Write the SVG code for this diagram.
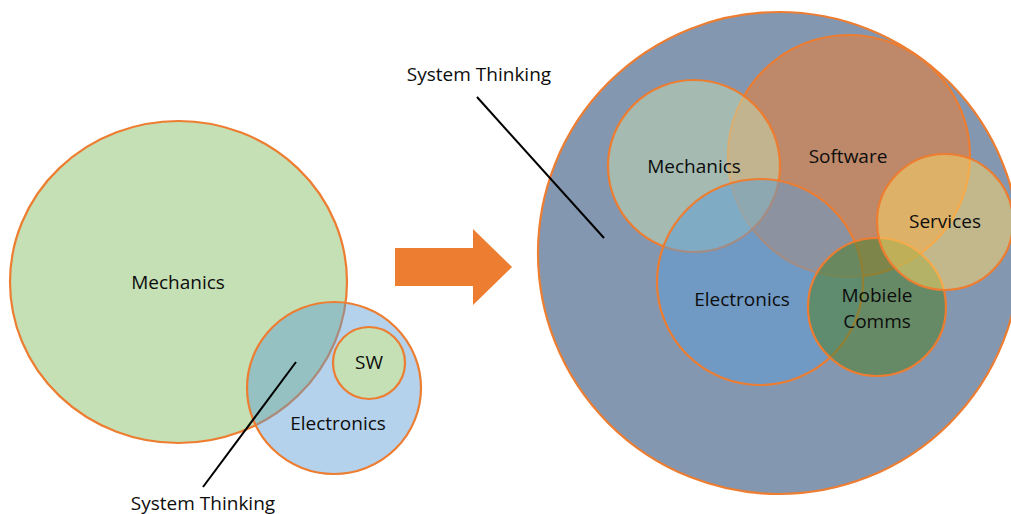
<svg xmlns="http://www.w3.org/2000/svg" width="1011" height="514" viewBox="0 0 1011 514">
<style>
  .c { stroke: #ed7d31; stroke-width: 2.2; }
  .t { font-family: "Open Sans", "Liberation Sans", sans-serif; font-size: 19px; fill: #0d0d0d; text-anchor: middle; }
  .ln { stroke: #000; stroke-width: 2; fill: none; }
</style>
<rect width="1011" height="514" fill="#ffffff"/>
<g id="left">
  <g id="l-mechanics">
    <ellipse class="c" cx="178.5" cy="282" rx="168.5" ry="161" fill="#c5e0b4"/>
    <text class="t" x="178" y="289">Mechanics</text>
  </g>
  <g id="l-electronics">
    <ellipse class="c" cx="334" cy="388" rx="87" ry="86" fill="#5b9bd5" fill-opacity="0.45"/>
    <text class="t" x="338" y="430">Electronics</text>
  </g>
  <g id="l-sw">
    <circle class="c" cx="369" cy="363" r="36" fill="#c5e0b4"/>
    <text class="t" x="369" y="369">SW</text>
  </g>
  <g id="l-system-thinking">
    <text class="t" x="203" y="510">System Thinking</text>
  </g>
</g>
<g id="arrow">
  <polygon points="395,248 473,248 473,229 512,267 473,305 473,286 395,286" fill="#ed7d31"/>
</g>
<g id="right">
  <g id="r-system">
    <circle class="c" cx="779" cy="253" r="241" fill="#8497b0"/>
  </g>
  <g id="r-software">
    <circle class="c" cx="849" cy="156" r="121" fill="#ed7d31" fill-opacity="0.55"/>
  </g>
  <g id="r-mechanics">
    <circle class="c" cx="694" cy="166" r="86" fill="#c5e0b4" fill-opacity="0.5"/>
  </g>
  <g id="r-electronics">
    <circle class="c" cx="760" cy="282" r="103" fill="#5b9bd5" fill-opacity="0.5"/>
  </g>
  <g id="r-mobiele">
    <circle class="c" cx="877" cy="307" r="69" fill="#548235" fill-opacity="0.6"/>
  </g>
  <g id="r-services">
    <circle class="c" cx="945" cy="222" r="68" fill="#ffd966" fill-opacity="0.5"/>
  </g>
  <g id="r-labels">
    <text class="t" x="694" y="173">Mechanics</text>
    <text class="t" x="848" y="163">Software</text>
    <text class="t" x="945" y="228">Services</text>
    <text class="t" x="742" y="306">Electronics</text>
    <text class="t" x="877" y="302">Mobiele</text>
    <text class="t" x="877" y="328">Comms</text>
    <text class="t" x="479" y="81">System Thinking</text>
  </g>
</g>
<g id="connectors">
  <line class="ln" x1="296" y1="362" x2="203" y2="487"/>
  <line class="ln" x1="477" y1="97" x2="604" y2="238"/>
</g>
</svg>
